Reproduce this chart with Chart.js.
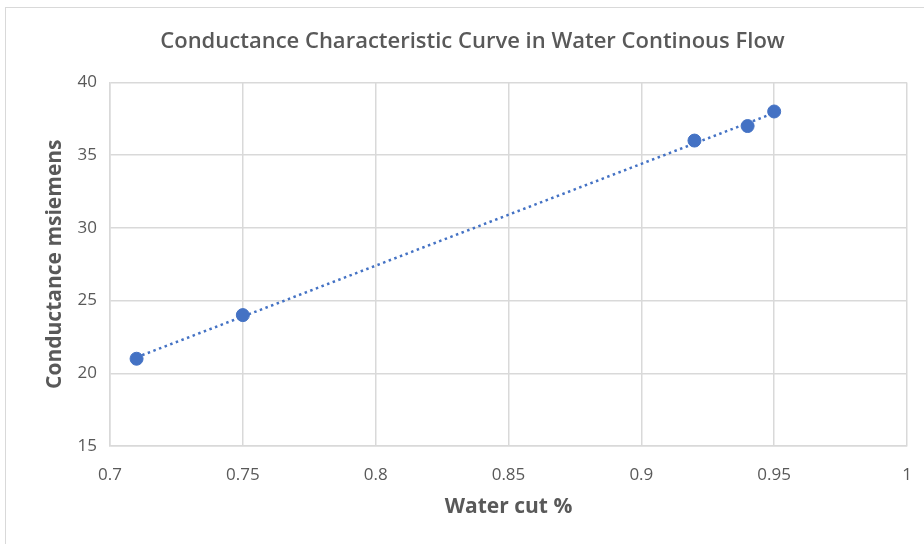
<!DOCTYPE html>
<html>
<head>
<meta charset="utf-8">
<script src="https://cdn.jsdelivr.net/npm/chart.js@4/dist/chart.umd.min.js"></script>
<style>
  html, body { margin: 0; padding: 0; background: #fff; overflow: hidden; }
  #wrap { position: relative; width: 924px; height: 544px; }
  #frame { position: absolute; left: 5px; top: 7px; width: 940px; height: 560px; border: 1px solid #d9d9d9; box-sizing: border-box; }
  canvas { position: absolute; left: 0; top: 0; }
</style>
</head>
<body>
<div id="wrap">
  <div id="frame"></div>
  <canvas id="c" width="924" height="544"></canvas>
</div>
<script>
const waterCut = [0.71, 0.75, 0.92, 0.94, 0.95];
const conductance = [21, 24, 36, 37, 38];
const trendX = [0.71, 0.95];
const trendY = [21.1, 37.9];
const xTicks = [0.7, 0.75, 0.8, 0.85, 0.9, 0.95, 1];
const yTicks = [15, 20, 25, 30, 35, 40];

const textColor = '#595959';
const gridColor = '#d9d9d9';
const blue = '#4472C4';
const fontFamily = '"Open Sans", "Liberation Sans", sans-serif';

new Chart(document.getElementById('c'), {
  type: 'scatter',
  data: {
    datasets: [
      {
        label: 'Conductance',
        data: waterCut.map((x, i) => ({ x: x, y: conductance[i] })),
        backgroundColor: blue,
        borderColor: blue,
        pointRadius: 6.5,
        pointHoverRadius: 6.5,
        order: 1
      },
      {
        label: 'Trend',
        data: trendX.map((x, i) => ({ x: x, y: trendY[i] })),
        showLine: true,
        borderColor: blue,
        borderWidth: 2.5,
        borderDash: [2.5, 3.5],
        pointRadius: 0,
        fill: false,
        order: 2
      }
    ]
  },
  options: {
    responsive: false,
    animation: false,
    layout: { padding: { left: 38, right: 17, top: 0, bottom: 0 } },
    plugins: {
      legend: { display: false },
      tooltip: { enabled: false },
      title: {
        display: true,
        text: 'Conductance Characteristic Curve in Water Continous Flow',
        color: textColor,
        font: { family: fontFamily, size: 22, weight: '600', lineHeight: 1.2 },
        padding: { top: 29, bottom: 27 }
      }
    },
    scales: {
      x: {
        type: 'linear',
        min: 0.7,
        max: 1,
        afterBuildTicks: (s) => { s.ticks = xTicks.map(v => ({ value: v })); },
        afterFit: (s) => { s.height = 98; s.paddingLeft = 0; s.paddingRight = 0; },
        ticks: {
          color: textColor,
          font: { family: fontFamily, size: 17 },
          padding: 19,
          callback: (v) => String(v)
        },
        grid: { color: gridColor, lineWidth: 1.5, drawTicks: false },
        border: { color: gridColor, width: 1.5 },
        title: {
          display: true,
          text: 'Water cut %',
          color: textColor,
          font: { family: fontFamily, size: 21, weight: 'bold', lineHeight: 1.2 },
          padding: { top: 0, bottom: 24 }
        }
      },
      y: {
        type: 'linear',
        min: 15,
        max: 40,
        afterBuildTicks: (s) => { s.ticks = yTicks.map(v => ({ value: v })); },
        afterFit: (s) => { s.width = 72; },
        ticks: {
          color: textColor,
          font: { family: fontFamily, size: 17 },
          padding: 13
        },
        grid: { color: gridColor, lineWidth: 1.5, drawTicks: false },
        border: { color: gridColor, width: 1.5 },
        title: {
          display: true,
          text: 'Conductance msiemens',
          color: textColor,
          font: { family: fontFamily, size: 21, weight: 'bold', lineHeight: 1.2 },
          padding: { top: 4, bottom: 0 }
        }
      }
    }
  }
});
</script>
</body>
</html>
